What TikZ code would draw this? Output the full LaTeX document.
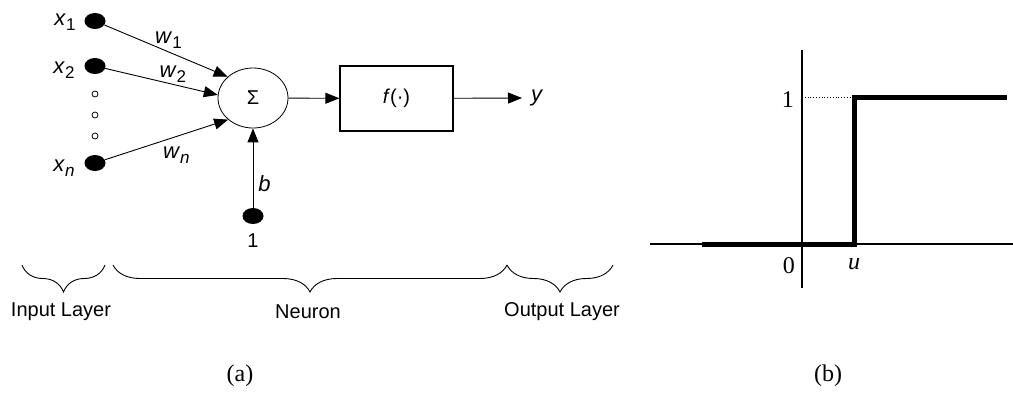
\documentclass[tikz,border=0pt]{standalone}
\usepackage{fontspec}
\setmainfont{Liberation Serif}
\newfontfamily\sansfont{Liberation Sans}
\usetikzlibrary{arrows.meta,shapes.geometric,decorations.pathreplacing}
\newcommand{\sub}[2]{{\fontsize{22}{24}\selectfont\textit{#1}}\raisebox{-0.5ex}{\fontsize{17}{19}\selectfont #2}}

\begin{document}
\begin{tikzpicture}[x=1pt, y=-1pt,
    lbl/.style={font=\sansfont\fontsize{20}{23}\selectfont, inner sep=1pt},
    dot/.style={ellipse, fill=black, minimum width=21pt, minimum height=16pt, inner sep=0pt},
    odot/.style={circle, draw, minimum size=6pt, inner sep=0pt, line width=0.8pt},
    arrow/.style={-{Triangle[length=14pt,width=11pt]}, line width=0.9pt},
    brc/.style={decorate, decoration={brace, mirror, amplitude=27pt}, line width=0.9pt},
    serif/.style={font=\fontsize{24}{28}\selectfont, inner sep=1pt}
]
\useasboundingbox (0,0) rectangle (1013,394);
% (a) neuron model
\node[dot] (x1) at (95,21) {};
\node[dot] (x2) at (95,66) {};
\node[odot] (o1) at (95,94) {};
\node[odot] (o2) at (95,115) {};
\node[odot] (o3) at (95,136) {};
\node[dot] (xn) at (95,163) {};
\node[dot] (bias) at (253,216) {};
\node[lbl] (lx1) at (65,22) {\sub{x}{1}};
\node[lbl] (lx2) at (64,70) {\sub{x}{2}};
\node[lbl] (lxn) at (64,168) {\sub{x}{\textit{n}}};
\node[lbl] (one) at (253,241) {1};
\node[ellipse, draw, line width=0.8pt, minimum width=70pt, minimum height=60pt, lbl] (sum) at (253,98) {Σ};
\node[rectangle, draw, line width=1.2pt, minimum width=113pt, minimum height=65pt, lbl] (f) at (396.5,98.5) {\textit{f}(·)};
\node[lbl, anchor=west, font=\sansfont\fontsize{22}{24}\selectfont] (y) at (530,98) {\textit{y}};
\coordinate (yend) at (522,98);
\draw[arrow] (x1) -- node[lbl, above=2pt, pos=0.52] (w1) {\sub{w}{1}} (sum.140);
\draw[arrow] (x2) -- node[lbl, above=0pt, pos=0.6] (w2) {\sub{w}{2}} (sum.175);
\draw[arrow] (xn) -- node[lbl, below=9pt, pos=0.58] (wn) {\sub{w}{\textit{n}}} (sum.221);
\draw[arrow] (bias) -- node[lbl, right=4pt, pos=0.3] (b) {\fontsize{22}{24}\selectfont\textit{b}} (sum.south);
\draw[arrow] (sum) -- (f);
\draw[arrow] (f) -- (yend);
\coordinate (in1) at (22,265);
\coordinate (in2) at (105,265);
\coordinate (ne1) at (113,265);
\coordinate (ne2) at (507,265);
\coordinate (ou2) at (613,265);
\draw[brc] (in1) -- (in2);
\draw[brc] (ne1) -- (ne2);
\draw[brc] (ne2) -- (ou2);
\node[lbl] (inl) at (61,312) {Input Layer};
\node[lbl] (nel) at (308,312) {Neuron};
\node[lbl] (oul) at (562,312) {Output Layer};
\node[serif] (capa) at (240,376) {(a)};
% (b) step function
\draw[line width=1.2pt] (650,244) -- (1013,244);
\draw[line width=1.2pt] (802,50) -- (802,288);
\draw[dotted, line width=0.8pt] (802,97) -- (854,97);
\draw[line width=5pt] (702,244) -- (854,244) -- (854,97) -- (1007,97);
\node[serif, anchor=east] (v1) at (795,100) {1};
\node[serif, anchor=east] (v0) at (796,266) {0};
\node[serif] (vu) at (854,264) {\textit{u}};
\node[serif] (capb) at (828,376) {(b)};
\end{tikzpicture}
\end{document}
